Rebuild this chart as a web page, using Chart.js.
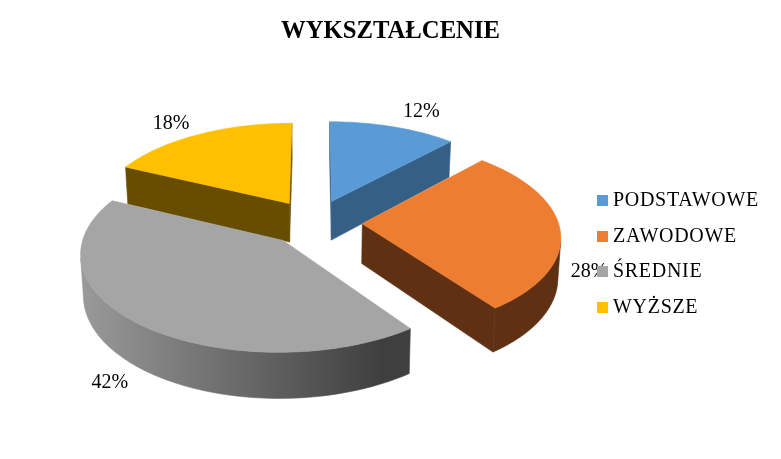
<!DOCTYPE html>
<html>
<head>
<meta charset="utf-8">
<style>html,body{margin:0;padding:0;background:#fff}canvas{display:block}</style>
<script src="https://cdn.jsdelivr.net/npm/chart.js@4"></script>
</head>
<body>
<canvas id="c" width="781" height="459"></canvas>
<script>
const chartTitle = "WYKSZTAŁCENIE";
const categories = ["PODSTAWOWE", "ZAWODOWE", "ŚREDNIE", "WYŻSZE"];
const shares = [12, 28, 42, 18];
const topColors = ["#5B9BD5", "#ED7D31", "#A5A5A5", "#FFC000"];
const sideColors = [["#355F85", "#355F85"], ["#5F3112", "#5F3112"], ["#999999", "#3F3F3F"], ["#664D00", "#664D00"]];
const labelShifts = [[28, -15], [29, 42], [-29, 59], [-27, -11]];

// view of the pie plane, in multiples of the library's outer radius
const view = { shiftX: 11.6, shiftY: -31.7, a: 1.073, b: 0.514, p: 0.119, depth: 0.217, converge: 0.012 };
const FONT = '"Liberation Serif", "Times New Roman", serif';

function swatch(color) {
  const s = document.createElement("canvas");
  s.width = 11; s.height = 11;
  const g = s.getContext("2d");
  g.fillStyle = color; g.fillRect(0, 0, 11, 11);
  return s;
}

const pie3d = {
  id: "pie3d",
  beforeUpdate(chart) {
    if (chart.legend) chart.legend._layers = () => [{ z: 1, draw: (a) => {
      chart.ctx.save();
      chart.ctx.letterSpacing = "0.7px";
      chart.legend.draw(a);
      chart.ctx.restore();
    } }];
  },
  beforeDatasetsDraw(chart) {
    const ctx = chart.ctx;
    const arcs = chart.getDatasetMeta(0).data;
    const total = shares.reduce((s, v) => s + v, 0);

    function project(ox, oy, R, u, v, lower) {
      const w = 1 - view.p * v;
      let x = view.a * R * u / w;
      let y = view.b * R * v / w;
      if (lower) { x *= 1 - view.converge; y += view.depth * R / w; }
      return [ox + x, oy + y];
    }

    const geometry = (el) => {
      const R = el.outerRadius;
      const mid = (el.startAngle + el.endAngle) / 2;
      const e = el.options.offset / R;
      const ox = el.x + view.shiftX, oy = el.y + view.shiftY;
      const ex = Math.cos(mid) * e, ey = Math.sin(mid) * e;
      return {
        mid,
        top: (a) => project(ox, oy, R, ex + Math.cos(a), ey + Math.sin(a), false),
        low: (a) => project(ox, oy, R, ex + Math.cos(a), ey + Math.sin(a), true),
        apex: project(ox, oy, R, ex, ey, false),
        apexLow: project(ox, oy, R, ex, ey, true)
      };
    };

    const faces = (a, b, c, d) => {
      const area = (b[0] - a[0]) * (c[1] - a[1]) - (b[1] - a[1]) * (c[0] - a[0])
                 + (c[0] - a[0]) * (d[1] - a[1]) - (c[1] - a[1]) * (d[0] - a[0]);
      return area < 0;
    };
    const fillPoly = (pts) => {
      ctx.beginPath();
      pts.forEach((p, i) => (i ? ctx.lineTo(p[0], p[1]) : ctx.moveTo(p[0], p[1])));
      ctx.closePath(); ctx.fill(); ctx.stroke();
    };

    const order = arcs.map((el, i) => i)
      .sort((i, j) => Math.sin((arcs[i].startAngle + arcs[i].endAngle) / 2) - Math.sin((arcs[j].startAngle + arcs[j].endAngle) / 2));

    ctx.save();
    ctx.lineWidth = 0.6;
    ctx.lineJoin = "round";
    order.forEach((i) => {
      const el = arcs[i], g = geometry(el);
      const steps = Math.max(8, Math.round((el.endAngle - el.startAngle) * 40));
      const angle = (k) => el.startAngle + (el.endAngle - el.startAngle) * k / steps;
      const grad = ctx.createLinearGradient(g.top(Math.PI)[0], 0, g.top(Math.PI * 0.35)[0], 0);
      grad.addColorStop(0, sideColors[i][0]);
      grad.addColorStop(1, sideColors[i][1]);
      ctx.fillStyle = grad; ctx.strokeStyle = grad;

      let upper = [], lower = [];
      const flush = () => {
        if (upper.length) fillPoly(upper.concat(lower.reverse()));
        upper = []; lower = [];
      };
      for (let k = 0; k < steps; k++) {
        const a = angle(k), b = angle(k + 1);
        if (faces(g.top(a), g.top(b), g.low(b), g.low(a))) {
          if (!upper.length) { upper.push(g.top(a)); lower.push(g.low(a)); }
          upper.push(g.top(b)); lower.push(g.low(b));
        } else flush();
      }
      flush();
      if (faces(g.top(el.endAngle), g.apex, g.apexLow, g.low(el.endAngle)))
        fillPoly([g.top(el.endAngle), g.apex, g.apexLow, g.low(el.endAngle)]);
      if (faces(g.apex, g.top(el.startAngle), g.low(el.startAngle), g.apexLow))
        fillPoly([g.apex, g.top(el.startAngle), g.low(el.startAngle), g.apexLow]);

      ctx.fillStyle = el.options.backgroundColor;
      ctx.strokeStyle = el.options.backgroundColor;
      const face = [g.apex];
      for (let k = 0; k <= steps; k++) face.push(g.top(angle(k)));
      fillPoly(face);
    });

    ctx.fillStyle = "#000";
    ctx.font = "20px " + FONT;
    ctx.textAlign = "center";
    ctx.textBaseline = "middle";
    arcs.forEach((el, i) => {
      const g = geometry(el);
      const p = g.top(g.mid);
      ctx.fillText(Math.round(shares[i] / total * 100) + "%", p[0] + labelShifts[i][0], p[1] + labelShifts[i][1]);
    });
    ctx.restore();
    return false;
  }
};

new Chart(document.getElementById("c"), {
  type: "pie",
  data: {
    labels: categories,
    datasets: [{ data: shares, backgroundColor: topColors, borderWidth: 0, offset: 44.7 }]
  },
  options: {
    responsive: false,
    animation: false,
    devicePixelRatio: 1,
    layout: { padding: { left: 19, right: 19, bottom: 0, top: 0 } },
    plugins: {
      tooltip: { enabled: false },
      title: {
        display: true,
        text: chartTitle,
        color: "#000",
        font: { family: FONT, size: 24.7, weight: "bold" },
        padding: { top: 17, bottom: 2.4 }
      },
      legend: {
        position: "right",
        fullSize: false,
        labels: {
          color: "#000",
          font: { family: FONT, size: 20 },
          padding: 15.5,
          usePointStyle: true,
          pointStyleWidth: 1,
          boxHeight: 11,
          generateLabels(chart) {
            return categories.map((text, i) => ({
              text, index: i, datasetIndex: 0,
              fillStyle: topColors[i], strokeStyle: topColors[i], lineWidth: 0,
              pointStyle: swatch(topColors[i])
            }));
          }
        }
      }
    }
  },
  plugins: [pie3d]
});
</script>
</body>
</html>
